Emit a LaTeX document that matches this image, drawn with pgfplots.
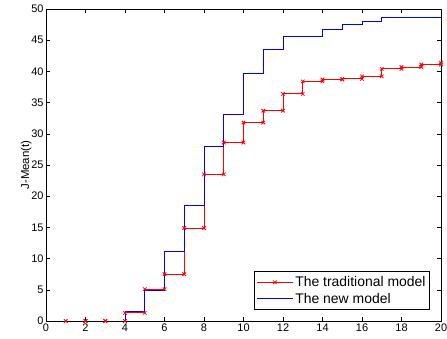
\documentclass[border=0pt]{standalone}
\usepackage{pgfplots}
\pgfplotsset{compat=1.18}
\usepackage{fontspec}
\setmainfont{Liberation Sans}
\begin{document}
\begin{tikzpicture}
\begin{axis}[
  name=ax,
  scale only axis,
  width=395bp, height=312bp,
  xmin=0, xmax=20, ymin=0, ymax=50,
  xtick={0,2,...,20}, ytick={0,5,...,50},
  tick align=inside,
  major tick length=4bp,
  tick style={black, line width=0.5pt},
  axis line style={black, line width=0.8pt},
  /pgf/number format/assume math mode=true,
  tick label style={font=\fontsize{11}{13}\selectfont},
  xticklabel style={yshift=1bp},
  yticklabel style={xshift=1bp},
  ylabel={J-Mean(t)},
  ylabel style={font=\fontsize{11.5}{13}\selectfont, yshift=-7bp},
  legend style={at={(0.972,0.035)}, anchor=south east, draw=black, line width=0.8pt,
    font=\fontsize{14}{16}\selectfont, inner xsep=2bp, inner ysep=3bp, row sep=1bp,
    cells={anchor=west}},
  legend cell align=left,
  legend image code/.code={\draw[mark repeat=2,mark phase=2,#1] plot coordinates {(0bp,0bp) (18bp,0bp) (36bp,0bp)};},
]
\addplot[red, line width=0.8pt, mark=x, mark size=2.5bp, mark options={line width=0.8pt}] coordinates {
(1,0) (2,0) (2,0) (3,0) (3,0) (4,0) (4,1.3) (5,1.3) (5,5.1) (6,5.1) (6,7.5) (7,7.5)
(7,14.9) (8,14.9) (8,23.5) (9,23.5) (9,28.6) (10,28.6) (10,31.8) (11,31.8)
(11,33.7) (12,33.7) (12,36.4) (13,36.4) (13,38.4) (14,38.4) (14,38.7) (15,38.7)
(15,38.8) (16,38.8) (16,39.2) (17,39.2) (17,40.4) (18,40.4) (18,40.7) (19,40.7)
(19,41.1) (20,41.1) (20,41.4)
};
\addlegendentry{The traditional model}
\addplot[blue, line width=0.8pt, no marks, const plot mark left] coordinates {
(1,0) (2,0) (3,0) (4,1.6) (5,4.9) (6,11.1) (7,18.5) (8,27.9) (9,33.1) (10,39.6)
(11,43.6) (12,45.6) (13,45.6) (14,46.8) (15,47.5) (16,48.0) (17,48.7) (18,48.7)
(19,48.7) (20,48.7)
};
\addlegendentry{The new model}
\end{axis}
\pgfresetboundingbox
\path (ax.south west) ++(-46bp,-18bp) coordinate (bl);
\path (ax.north east) ++(6bp,9bp) coordinate (tr);
\useasboundingbox (bl) rectangle (tr);
\end{tikzpicture}
\end{document}
